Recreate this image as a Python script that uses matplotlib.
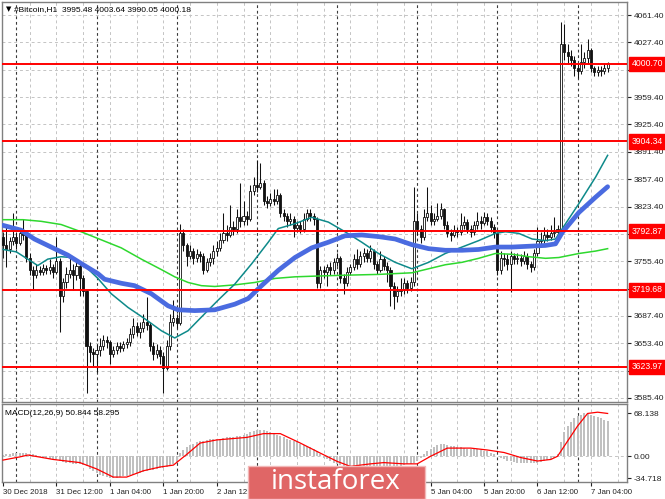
import numpy as np
import matplotlib
matplotlib.use("Agg")
import matplotlib.pyplot as plt
from matplotlib import transforms
from matplotlib.patches import Rectangle

plt.rcParams['font.family'] = ['Liberation Sans', 'DejaVu Sans']

# ---------------- data (hourly bars, 30 Dec 2018 20:00 .. 7 Jan 2019 09:00) ----------------
first_open = 3785
closes = [
    3775, 3770, 3780, 3785, 3778, 3790, 3788, 3760, 3745, 3738,
    3745, 3742, 3747, 3744, 3748, 3742, 3756, 3712, 3730, 3740,
    3745, 3738, 3750, 3735, 3718, 3650, 3643, 3640, 3645, 3650,
    3658, 3655, 3640, 3645, 3650, 3648, 3652, 3655, 3665, 3675,
    3668, 3672, 3680, 3676, 3650, 3640, 3645, 3638, 3623, 3650,
    3680, 3685, 3678, 3790, 3775, 3762, 3768, 3760, 3764, 3762,
    3745, 3755, 3760, 3768, 3772, 3782, 3790, 3788, 3798, 3795,
    3810, 3805, 3812, 3808, 3843, 3850, 3848, 3852, 3830, 3828,
    3833, 3830, 3838, 3815, 3812, 3805, 3808, 3797, 3800, 3795,
    3808, 3815, 3812, 3808, 3728, 3745, 3742, 3748, 3745, 3755,
    3760, 3735, 3728, 3742, 3748, 3758, 3752, 3762, 3765, 3760,
    3768, 3752, 3745, 3758, 3750, 3745, 3725, 3712, 3718, 3720,
    3728, 3722, 3730, 3805, 3795, 3785, 3810, 3815, 3805, 3808,
    3812, 3820, 3800, 3790, 3788, 3794, 3792, 3800, 3804, 3796,
    3792, 3800, 3806, 3803, 3810, 3806, 3798, 3790, 3745, 3760,
    3758, 3752, 3762, 3758, 3760, 3756, 3762, 3752, 3748, 3765,
    3780, 3782, 3788, 3785, 3790, 3792, 3795, 4026, 4015, 4010,
    4005, 3996, 3992, 4003, 4008, 4018, 3995, 3990, 3993, 3992,
    3995.48, 4000.18]
highs = [
    3792, 3800, 3786, 3815, 3792, 3796, 3808, 3792, 3765, 3750,
    3752, 3750, 3752, 3751, 3758, 3752, 3785, 3760, 3735, 3748,
    3760, 3752, 3758, 3755, 3738, 3720, 3655, 3648, 3652, 3660,
    3664, 3662, 3658, 3650, 3655, 3655, 3656, 3660, 3672, 3685,
    3680, 3680, 3690, 3711, 3680, 3655, 3652, 3650, 3642, 3658,
    3690, 3707, 3690, 3802, 3795, 3778, 3775, 3772, 3770, 3768,
    3766, 3760, 3765, 3775, 3780, 3790, 3815, 3800, 3825, 3805,
    3820, 3852, 3830, 3818, 3850, 3860, 3881, 3878, 3856, 3836,
    3840, 3845, 3845, 3840, 3820, 3815, 3815, 3812, 3806, 3805,
    3815, 3820, 3820, 3815, 3810, 3750, 3750, 3752, 3755, 3760,
    3765, 3762, 3740, 3748, 3752, 3764, 3770, 3768, 3772, 3770,
    3775, 3770, 3756, 3768, 3762, 3755, 3748, 3730, 3725, 3735,
    3735, 3732, 3736, 3848, 3815, 3800, 3820, 3848, 3825, 3815,
    3828, 3828, 3822, 3805, 3795, 3800, 3798, 3815, 3812, 3808,
    3800, 3806, 3817, 3812, 3817, 3815, 3810, 3802, 3792, 3768,
    3765, 3764, 3768, 3766, 3766, 3764, 3768, 3765, 3756, 3770,
    3798, 3792, 3798, 3795, 3800, 3810, 3800, 4053, 4050, 4025,
    4018, 4010, 4002, 4025, 4015, 4032, 4020, 3998, 3998, 3998,
    4002, 4003.64]
lows = [
    3760, 3748, 3765, 3776, 3770, 3775, 3782, 3755, 3738, 3720,
    3735, 3738, 3738, 3740, 3740, 3735, 3740, 3668, 3705, 3722,
    3735, 3720, 3732, 3712, 3712, 3592, 3630, 3625, 3618, 3638,
    3645, 3648, 3628, 3636, 3640, 3642, 3644, 3648, 3650, 3660,
    3662, 3660, 3668, 3670, 3644, 3632, 3635, 3628, 3592, 3620,
    3645, 3675, 3672, 3676, 3768, 3750, 3758, 3752, 3755, 3755,
    3740, 3742, 3750, 3752, 3762, 3768, 3778, 3780, 3785, 3788,
    3790, 3798, 3800, 3800, 3805, 3838, 3842, 3845, 3825, 3822,
    3824, 3825, 3826, 3810, 3805, 3798, 3800, 3786, 3792, 3790,
    3792, 3805, 3806, 3800, 3722, 3722, 3735, 3725, 3738, 3740,
    3750, 3728, 3715, 3725, 3738, 3745, 3746, 3748, 3755, 3754,
    3755, 3746, 3740, 3742, 3744, 3730, 3700, 3696, 3705, 3712,
    3715, 3716, 3718, 3725, 3788, 3778, 3782, 3805, 3800, 3800,
    3805, 3808, 3795, 3785, 3780, 3785, 3786, 3788, 3796, 3790,
    3785, 3788, 3795, 3796, 3800, 3800, 3792, 3784, 3738, 3740,
    3750, 3745, 3717, 3752, 3752, 3750, 3752, 3746, 3742, 3745,
    3762, 3775, 3778, 3780, 3782, 3786, 3788, 3792, 4005, 4000,
    3998, 3985, 3983, 3988, 3995, 4000, 3990, 3985, 3986, 3985,
    3988, 3990.05]

# moving averages (bar index, price)
blue_t = [0, 5.4, 9.4, 14.4, 19.4, 24.4, 28.4, 30.4, 35.4, 39.4, 44.4, 49.4, 52.4, 57.4,
          63.4, 69.4, 73.4, 77.4, 82.4, 87.4, 92.4, 97.4, 102.4, 107.4, 112.4, 117.4,
          122.4, 127.4, 132.4, 137.4, 142.4, 147.4, 152.4, 157.4, 162.4, 165.4, 167.4,
          172.4, 177.4, 181]
blue_v = [3800, 3794, 3783, 3773, 3763, 3750, 3740, 3733, 3728, 3725, 3715, 3700, 3695, 3694,
          3695, 3702, 3709, 3725, 3744, 3760, 3772, 3779, 3787, 3788, 3786, 3783,
          3776, 3771, 3769, 3769, 3770, 3773, 3773, 3774, 3775, 3777, 3791,
          3816, 3835, 3848]
teal_t = [0, 4, 7.4, 10.4, 13.4, 17.4, 20.4, 24.4, 28.4, 32.4, 37.4, 42.4, 47.4, 51.4,
          55.4, 59.4, 64.4, 69.4, 74.4, 79.4, 82.4, 87.4, 92.4, 97.4, 102.4, 107.4,
          112.4, 117.4, 122.4, 127.4, 132.4, 137.4, 142.4, 147.4, 150.4, 154.4, 158.4,
          162.4, 165.4, 168.4, 172.4, 177.4, 181]
teal_v = [3770, 3767, 3758, 3750, 3758, 3761, 3760, 3750, 3734, 3715, 3698, 3684, 3669, 3660,
          3669, 3686, 3707, 3727, 3752, 3779, 3796, 3802, 3810, 3804, 3792, 3779,
          3765, 3754, 3746, 3754, 3765, 3773, 3781, 3790, 3792, 3790, 3783,
          3781, 3783, 3802, 3827, 3860, 3887]
green_t = [0, 6, 11.4, 17.4, 23.4, 29.4, 35.4, 41.4, 47.4, 51.4, 55.4, 59.4, 63.4, 69.4,
           75.4, 81.4, 87.4, 94.4, 102.4, 112.4, 122.4, 127.4, 132.4, 137.4, 142.4,
           147.4, 152.4, 157.4, 162.4, 166.4, 172.4, 177.4, 181]
green_v = [3807, 3807, 3805, 3801, 3792, 3782, 3772, 3758, 3745, 3736, 3729, 3725, 3724, 3726,
           3729, 3734, 3736, 3737, 3738, 3739, 3741, 3746, 3751, 3754, 3759,
           3765, 3764, 3761, 3759, 3760, 3765, 3768, 3771]

# horizontal support / resistance levels
red_levels = [4000.70, 3904.34, 3792.87, 3719.68, 3623.97]
red_labels = ['4000.70', '3904.34', '3792.87', '3719.68', '3623.97']

# price grid levels and the labels that remain visible
price_grid = [3585.40, 3619.40, 3653.40, 3687.40, 3721.40, 3755.40, 3789.40, 3823.40,
              3857.40, 3891.40, 3925.40, 3959.40, 3993.40, 4027.40, 4061.40]
price_labels = ['3585.40', '', '3653.40', '3687.40', '', '3755.40', '3789.40', '3823.40',
                '3857.40', '3891.40', '3925.40', '3959.40', '3993.40', '4027.40', '4061.40']

# MACD main (histogram) per bar
macd_hist = [
    2, 3, 4, 5, 6, 6, 5, 5, 4, 3, 2,
    -1, -2, -3, -4, -5, -6, -8, -9, -10, -11, -12, -12, -13, -14, -16,
    -20, -24, -27, -30, -32, -33, -34, -34.7, -34, -33, -32, -31, -30, -29, -28, -27,
    -25, -23, -22, -21, -20, -19, -18, -17, -15, -12, -10,
    5,
    10, 14, 18, 20, 22, 24, 25,
    26, 27, 27, 28, 28, 29, 30, 30, 31, 32, 33, 34, 36, 38, 40, 42, 42,
    41, 40, 38, 36, 34, 32, 30, 28, 26, 24, 22, 20, 18, 16, 14, 12, 8, 3,
    -2, -5, -8, -10, -12, -14, -15, -16, -17, -18, -18, -18, -18, -18, -17, -17, -17,
    -16, -16, -15, -15, -16, -16, -15, -14, -13, -12, -10, -8,
    -3, 3, 8, 12, 15, 18, 19,
    19, 18, 17, 16, 15, 14, 13, 12, 12, 11, 11, 10, 9, 8, 6, 4, 1,
    -3, -5, -7, -8, -9, -10, -10, -11, -11, -11, -10, -10, -9, -8, -6, -4, -2,
    3, 22, 38, 48, 55, 60, 64, 66, 68.1, 67, 66, 64, 62, 60, 58, 56]
signal_t = [0, 5, 7.5, 15, 23, 28, 33, 37, 42, 47, 51, 55, 59, 64, 73, 78, 83, 89, 95, 100,
            104, 110, 114, 120, 124, 128, 133, 140, 145, 150, 155, 160, 164, 166, 169,
            172, 175, 178, 181]
signal_v = [-6, -1, 2, -5, -10, -20, -33, -33, -23, -17, -14, 3, 21, 26, 30, 36, 36, 21, 5, -8,
            -16, -12, -10, -12, -12, 0, 13, 13, 10, 6, -2, -7.5, -5, 0, 24,
            48, 68, 70, 68]
macd_ticks = [68.138, 0.0, -34.718]
macd_tick_labels = ['68.138', '0.00', '-34.718']

# date labels every 16 bars (those under the watermark are hidden)
date_labels = ['30 Dec 2018', '31 Dec 12:00', '1 Jan 04:00', '1 Jan 20:00', '2 Jan 12:00',
               '', '', '', '5 Jan 04:00', '5 Jan 20:00', '6 Jan 12:00', '7 Jan 04:00']

title_text = '#Bitcoin,H1  3995.48 4003.64 3990.05 4000.18'
macd_text = 'MACD(12,26,9) 50.844 58.295'

# ---------------- figure ----------------
W, H = 665, 499
fig = plt.figure(figsize=(W / 100, H / 100), dpi=100)
fig.patch.set_facecolor('white')


def box(x0, y0, x1, y1):
    return [x0 / W, 1 - y1 / H, (x1 - x0) / W, (y1 - y0) / H]


ax = fig.add_axes(box(2, 2, 627, 402))
axm = fig.add_axes(box(2, 404, 627, 482), sharex=ax)

n = len(closes)
x = np.arange(n)
c = np.array(closes, dtype=float)
o = np.concatenate([[first_open], c[:-1]])
h = np.maximum(np.array(highs, dtype=float), np.maximum(o, c))
l = np.minimum(np.array(lows, dtype=float), np.minimum(o, c))
up = c >= o

XMIN, XMAX = -0.3, 186.8
ax.set_xlim(XMIN, XMAX)
ax.set_ylim(3580.4, 4077.6)
axm.set_ylim(-40.8, 83)

grid_col = '#c4c4c4'
sep_col = '#3a3a3a'
vgrid = np.arange(8, XMAX, 8)
seps = np.arange(4, XMAX, 24)
for a in (ax, axm):
    for g in vgrid:
        a.axvline(g, color=grid_col, lw=0.7, ls=(0, (3, 3)), zorder=0.5)
    for s in seps:
        a.axvline(s, color=sep_col, lw=0.8, ls=(0, (2.5, 2.5)), zorder=0.6)
    for sp in a.spines.values():
        sp.set_color('#808080')
        sp.set_linewidth(1.0)
    a.set_facecolor('white')

for p in price_grid:
    ax.axhline(p, color=grid_col, lw=0.7, ls=(0, (3, 3)), zorder=0.5)

# candles
ax.vlines(x, l, h, color='#111111', lw=0.75, zorder=2)
body_w = 0.62
hu = np.maximum(c[up] - o[up], 0.8)
hd = np.maximum(o[~up] - c[~up], 0.8)
ax.bar(x[up], hu, bottom=o[up], width=body_w, facecolor='white', edgecolor='#111111',
       linewidth=0.6, zorder=3)
ax.bar(x[~up], hd, bottom=c[~up], width=body_w, facecolor='#111111', edgecolor='#111111',
       linewidth=0.6, zorder=3)

# moving averages
ax.plot(green_t, green_v, color='#2ed82e', lw=1.1, zorder=4)
ax.plot(teal_t, teal_v, color='#0e8a8a', lw=1.1, zorder=4)
ax.plot(blue_t, blue_v, color='#4a6be0', lw=3.4, zorder=5, solid_capstyle='round')

# red levels
for lv in red_levels:
    ax.axhline(lv, color='#ff0000', lw=1.4, zorder=6)

# y axis price labels
ax.yaxis.tick_right()
ax.set_yticks(price_grid)
ax.set_yticklabels(price_labels)
ax.tick_params(axis='y', direction='out', length=3, width=0.8, pad=2, labelsize=6,
               colors='#222222')
ax.tick_params(axis='x', which='both', length=0, labelbottom=False)

bt = transforms.blended_transform_factory(ax.transAxes, ax.transData)
for lv, txt in zip(red_levels, red_labels):
    ax.text(1.007, lv, txt, transform=bt, ha='left', va='center', color='white',
            fontsize=6.2,
            bbox=dict(boxstyle='square,pad=0.32', fc='#ff0000', ec='#ff0000'),
            zorder=10, clip_on=False)

ax.text(0.006, 0.982, '\u25bc', transform=ax.transAxes, fontsize=5, va='center', ha='left',
        family=['DejaVu Sans'])
ax.text(0.02, 0.982, title_text, transform=ax.transAxes, fontsize=6, va='center', ha='left')

# MACD panel
axm.bar(x, macd_hist, width=0.6, color='#c0c0c0', zorder=2)
axm.plot(signal_t, signal_v, color='#ff0000', lw=0.9, zorder=3)
axm.axhline(0, color=grid_col, lw=0.7, ls=(0, (3, 3)), zorder=0.5)
axm.yaxis.tick_right()
axm.set_yticks(macd_ticks)
axm.set_yticklabels(macd_tick_labels)
axm.tick_params(axis='y', direction='out', length=3, width=0.8, pad=2, labelsize=6,
                colors='#222222')
tick_pos = np.arange(0, 16 * len(date_labels), 16)
axm.set_xticks(tick_pos)
axm.set_xticklabels(date_labels, ha='left')
axm.tick_params(axis='x', direction='out', length=3, width=0.8, pad=2, labelsize=5.7,
                colors='#222222')
axm.text(0.005, 0.88, macd_text, transform=axm.transAxes, fontsize=6, va='center', ha='left')

# watermark logo
fig.add_artist(Rectangle((248 / W, 0), (425 - 248) / W, (499 - 466) / H,
                         transform=fig.transFigure, fc='#e06666', ec='#f2b8b8', lw=1,
                         zorder=20))
fig.text(336 / W, 1 - 482 / H, 'instaforex', ha='center', va='center', color='white',
         fontsize=20, zorder=21, family=['Open Sans', 'DejaVu Sans'])

fig.savefig('out.png', dpi=100, facecolor='white')
